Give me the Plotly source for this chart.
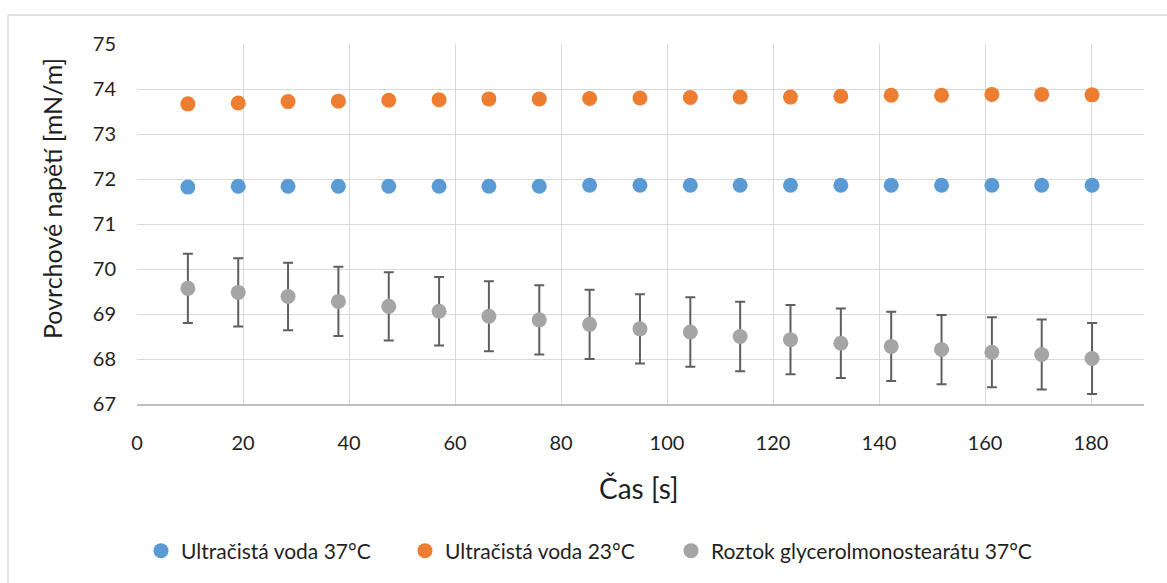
import plotly.graph_objects as go

# Measurement times [s]
cas = [9.6, 19.1, 28.5, 38.0, 47.5, 57.0, 66.4, 75.9, 85.4, 94.9,
       104.4, 113.8, 123.3, 132.8, 142.3, 151.8, 161.3, 170.7, 180.2]

# Surface tension [mN/m]
voda_37 = [71.82, 71.84, 71.84, 71.84, 71.84, 71.84, 71.84, 71.84, 71.86, 71.86,
           71.86, 71.86, 71.86, 71.86, 71.86, 71.86, 71.86, 71.86, 71.86]
voda_23 = [73.67, 73.69, 73.72, 73.73, 73.75, 73.76, 73.78, 73.78, 73.79, 73.80,
           73.81, 73.82, 73.82, 73.84, 73.86, 73.86, 73.88, 73.88, 73.87]
roztok_37 = [69.57, 69.48, 69.39, 69.28, 69.17, 69.06, 68.95, 68.87, 68.77, 68.67,
             68.60, 68.50, 68.43, 68.35, 68.28, 68.21, 68.15, 68.10, 68.01]
roztok_37_err = [0.77, 0.76, 0.75, 0.77, 0.76, 0.76, 0.78, 0.77, 0.77, 0.77,
                 0.77, 0.77, 0.77, 0.77, 0.77, 0.77, 0.78, 0.78, 0.79]

names = ["Ultračistá voda 37°C", "Ultračistá voda 23°C",
         "Roztok glycerolmonostearátu 37°C"]
colors = ["#5B9BD5", "#ED7D31", "#A5A5A5"]

FONT = "Lato, 'Open Sans', sans-serif"
TXT = "#1f1f1f"

W, H = 1167, 583
ML, MR, MT, MB = 137, 23, 44, 179
PW, PH = W - ML - MR, H - MT - MB

fig = go.Figure()
fig.add_trace(go.Scatter(x=cas, y=voda_37, mode="markers", name=names[0],
                         marker=dict(size=15, color=colors[0]),
                         legend="legend", showlegend=True))
fig.add_trace(go.Scatter(x=cas, y=voda_23, mode="markers", name=names[1],
                         marker=dict(size=15, color=colors[1]),
                         legend="legend2", showlegend=True))
fig.add_trace(go.Scatter(x=cas, y=roztok_37, mode="markers", name=names[2],
                         marker=dict(size=15, color=colors[2]),
                         error_y=dict(type="data", array=roztok_37_err, visible=True,
                                      color="#5f5f5f", thickness=2, width=5),
                         legend="legend3", showlegend=True))


def px_x(p):
    return (p - ML) / PW


def px_y(p):
    return 1 - (p - MT) / PH


leg_common = dict(orientation="h", yref="container", xref="container",
                  y=1 - 551 / H, yanchor="middle", xanchor="left",
                  font=dict(family=FONT, size=21, color=TXT),
                  bgcolor="rgba(0,0,0,0)", itemwidth=30)

fig.update_layout(
    width=W, height=H,
    showlegend=True,
    margin=dict(l=ML, r=MR, t=MT, b=MB, autoexpand=False),
    paper_bgcolor="white", plot_bgcolor="white",
    font=dict(family=FONT, color=TXT),
    legend=dict(x=141 / W, **leg_common),
    legend2=dict(x=405 / W, **leg_common),
    legend3=dict(x=671 / W, **leg_common),
    xaxis=dict(range=[0, 190], dtick=20, tick0=0, showgrid=True,
               gridcolor="#d9d9d9", gridwidth=1.3, zeroline=False,
               showline=True, linecolor="#bfbfbf", linewidth=1.5,
               ticks="", ticklabelstandoff=20,
               tickfont=dict(family=FONT, size=20, color=TXT)),
    yaxis=dict(range=[67, 75], dtick=1, tick0=67, showgrid=True,
               gridcolor="#d9d9d9", gridwidth=1.3, zeroline=False,
               showline=False, ticks="", ticklabelstandoff=20,
               tickfont=dict(family=FONT, size=20, color=TXT)),
    annotations=[
        dict(text="Povrchové napětí [mN/m]", xref="paper", yref="paper",
             x=px_x(52), y=px_y(199), textangle=-90, showarrow=False,
             xanchor="center", yanchor="middle",
             font=dict(family=FONT, size=25, color=TXT)),
        dict(text="Čas [s]", xref="paper", yref="paper",
             x=px_x(639), y=px_y(488), showarrow=False,
             xanchor="center", yanchor="middle",
             font=dict(family=FONT, size=28, color=TXT)),
    ],
    shapes=[
        dict(type="line", xref="paper", yref="paper",
             x0=px_x(8), x1=px_x(8), y0=px_y(15), y1=px_y(H + 5),
             line=dict(color="#d9d9d9", width=1.3)),
        dict(type="line", xref="paper", yref="paper",
             x0=px_x(8), x1=px_x(W + 5), y0=px_y(15), y1=px_y(15),
             line=dict(color="#d9d9d9", width=1.3)),
    ],
)

fig.write_html("out.html")
